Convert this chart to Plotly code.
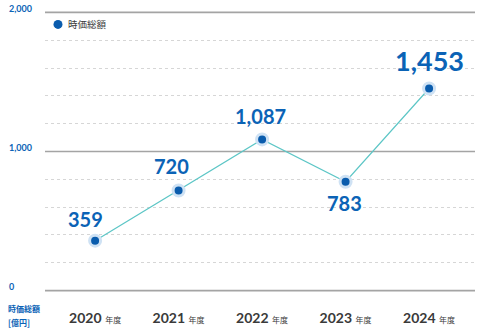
import plotly.graph_objects as go

years = ["2020", "2021", "2022", "2023", "2024"]
market_cap = [359, 720, 1087, 783, 1453]
y_ticks = [0, 1000, 2000]
y_tick_text = ["0", "1,000", "2,000"]
y_range = [-10, 2010]
x_range = [-0.6, 4.55]

# value label placement around each point (pixel offsets) and size
label_dx = [-10, -7, -2, -1, 0]
label_dy = [22, 24, 23, -21, 28]
label_size = [20, 20, 20, 20, 27]

BLUE = "#0b63b6"
DOT = "#0a5cad"
HALO = "#cfe2f4"
TEAL = "#5cc6c6"
GRID = "#d6d6d6"
AXIS = "#a4a4a4"
FONT = "Lato, 'Noto Sans CJK JP', sans-serif"
JP = "'Noto Sans CJK JP', sans-serif"

xi = list(range(len(years)))
tick_text = [f"<b>{y}</b> <span style='font-size:8px'>年度</span>" for y in years]

fig = go.Figure()

# solid reference lines at the labelled values, drawn as line traces across the axis range
for v in y_ticks:
    fig.add_trace(go.Scatter(
        x=x_range, y=[v, v], mode="lines",
        line=dict(color=AXIS, width=1.6),
        hoverinfo="skip", showlegend=False, cliponaxis=False,
    ))

fig.add_trace(go.Scatter(
    x=xi, y=market_cap, mode="lines+markers",
    name="時価総額",
    line=dict(color=TEAL, width=1.2),
    marker=dict(size=11, color=DOT, line=dict(color=HALO, width=3)),
    cliponaxis=False,
    showlegend=False,
))

for x, v, dx, dy, s in zip(xi, market_cap, label_dx, label_dy, label_size):
    fig.add_annotation(x=x, y=v, text=f"<b>{v:,}</b>", showarrow=False,
                       xanchor="center", yanchor="middle", xshift=dx, yshift=dy,
                       font=dict(family=FONT, size=s, color=BLUE))

# left-aligned value labels on the y axis, sitting on their lines
for v, t in zip(y_ticks, y_tick_text):
    fig.add_annotation(xref="paper", x=-38 / 430, xanchor="left", yref="y", y=v,
                       yanchor="middle", yshift=4,
                       text=f"<b>{t}</b>", showarrow=False,
                       font=dict(family=FONT, size=9, color=BLUE))

# axis caption (two lines), placed in pixels below the plot area
for txt, dy in (("時価総額", -18), ("[億円]", -32)):
    fig.add_annotation(xref="paper", x=-39 / 430, xanchor="left", yref="y", y=0,
                       yshift=dy, yanchor="middle", text=f"<b>{txt}</b>", showarrow=False,
                       font=dict(family=JP, size=8, color=BLUE))

# legend: dot + caption
fig.add_shape(type="circle", xref="paper", yref="y",
              xsizemode="pixel", ysizemode="pixel",
              xanchor=13 / 430, yanchor=2000,
              x0=-4.5, x1=4.5, y0=-16.5, y1=-7.5,
              fillcolor=DOT, line=dict(width=0))
fig.add_annotation(xref="paper", x=21 / 430, xanchor="left", yref="y", y=2000,
                   yshift=-12, yanchor="middle", text="時価総額", showarrow=False,
                   font=dict(family=JP, size=9.5, color="#3a3a3a"))

fig.update_layout(
    width=483, height=334,
    margin=dict(l=45, r=8, t=11, b=39),
    paper_bgcolor="white", plot_bgcolor="white",
    font=dict(family=FONT, color="#333333"),
    showlegend=False,
    xaxis=dict(range=x_range, tickvals=xi, ticktext=tick_text,
               showgrid=False, zeroline=False, showline=False,
               ticks="outside", ticklen=13, tickcolor="rgba(0,0,0,0)",
               tickfont=dict(family=FONT, size=14, color="#3a3a3a")),
    yaxis=dict(range=y_range, tick0=0, dtick=200, showgrid=True, gridcolor=GRID,
               griddash="dot", gridwidth=1, zeroline=False, showline=False,
               showticklabels=False, ticks=""),
)

fig.write_html("out.html")
